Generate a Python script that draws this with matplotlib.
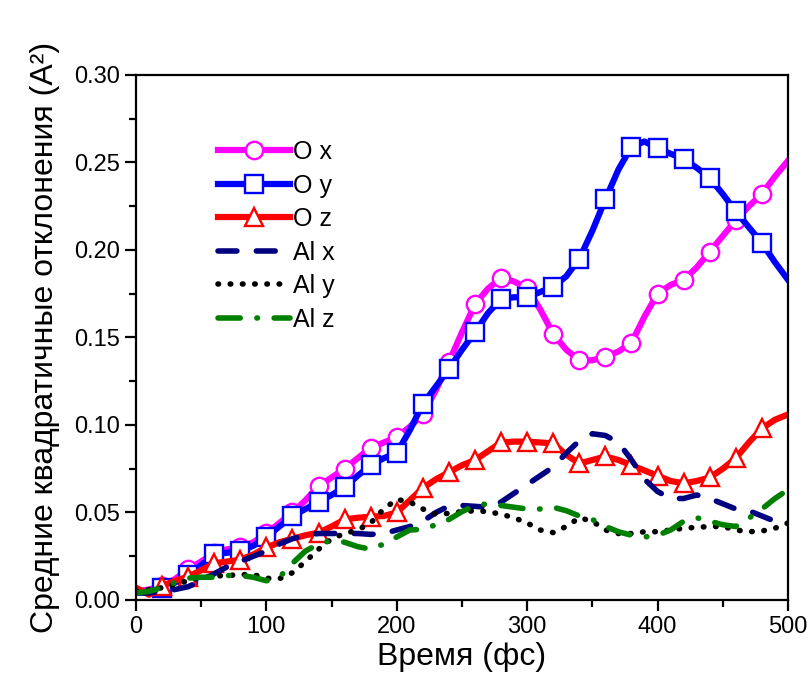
import numpy as np
import matplotlib
matplotlib.use("Agg")
import matplotlib.pyplot as plt

plt.rcParams["font.family"] = ["Liberation Sans", "DejaVu Sans"]

# time axis, fs
t = np.arange(0, 501, 10)

o_x = [0.005, 0.006, 0.008, 0.012, 0.0175, 0.022, 0.027, 0.029, 0.030, 0.033,
       0.038, 0.044, 0.050, 0.057, 0.065, 0.070, 0.075, 0.081, 0.087, 0.090,
       0.093, 0.099, 0.106, 0.120, 0.136, 0.153, 0.169, 0.178, 0.184, 0.182,
       0.178, 0.166, 0.152, 0.143, 0.137, 0.137, 0.139, 0.142, 0.147, 0.162,
       0.175, 0.180, 0.183, 0.190, 0.199, 0.208, 0.217, 0.225, 0.232, 0.242,
       0.251]
o_y = [0.005, 0.004, 0.0068, 0.010, 0.014, 0.020, 0.026, 0.027, 0.028, 0.031,
       0.036, 0.042, 0.048, 0.052, 0.056, 0.060, 0.0645, 0.071, 0.077, 0.081,
       0.084, 0.097, 0.112, 0.122, 0.132, 0.143, 0.153, 0.164, 0.172, 0.173,
       0.173, 0.176, 0.179, 0.185, 0.195, 0.211, 0.229, 0.246, 0.259, 0.262,
       0.258, 0.255, 0.252, 0.247, 0.241, 0.232, 0.222, 0.213, 0.204, 0.193,
       0.183]
o_z = [0.007, 0.003, 0.008, 0.011, 0.0133, 0.017, 0.021, 0.022, 0.023, 0.026,
       0.030, 0.033, 0.035, 0.037, 0.0385, 0.042, 0.046, 0.047, 0.0476, 0.048,
       0.050, 0.057, 0.064, 0.069, 0.073, 0.077, 0.080, 0.085, 0.090, 0.0905,
       0.0905, 0.090, 0.0895, 0.083, 0.078, 0.080, 0.082, 0.080, 0.077, 0.074,
       0.071, 0.068, 0.0667, 0.068, 0.070, 0.075, 0.081, 0.090, 0.098, 0.103,
       0.106]
al_x = [0.004, 0.004, 0.005, 0.006, 0.0076, 0.011, 0.015, 0.019, 0.022, 0.025,
        0.028, 0.032, 0.035, 0.037, 0.038, 0.038, 0.038, 0.038, 0.0375, 0.038,
        0.040, 0.042, 0.045, 0.050, 0.0537, 0.054, 0.0535, 0.053, 0.056, 0.061,
        0.066, 0.071, 0.076, 0.084, 0.091, 0.095, 0.094, 0.090, 0.080, 0.069,
        0.062, 0.058, 0.058, 0.060, 0.058, 0.055, 0.052, 0.051, 0.048, 0.045,
        0.043]
al_y = [0.005, 0.006, 0.007, 0.009, 0.011, 0.013, 0.0137, 0.014, 0.0145, 0.0145,
        0.0124, 0.0122, 0.0156, 0.022, 0.029, 0.035, 0.038, 0.040, 0.044, 0.052,
        0.0575, 0.056, 0.052, 0.049, 0.0495, 0.0505, 0.051, 0.0505, 0.049, 0.047,
        0.044, 0.040, 0.0385, 0.042, 0.047, 0.045, 0.040, 0.038, 0.038, 0.039,
        0.039, 0.040, 0.041, 0.0415, 0.042, 0.042, 0.040, 0.039, 0.0394, 0.041,
        0.044]
al_z = [0.004, 0.005, 0.007, 0.010, 0.0125, 0.013, 0.013, 0.014, 0.014, 0.013,
        0.011, 0.013, 0.021, 0.028, 0.032, 0.034, 0.033, 0.0305, 0.029, 0.032,
        0.036, 0.040, 0.0404, 0.043, 0.046, 0.0505, 0.054, 0.055, 0.054, 0.053,
        0.052, 0.052, 0.053, 0.051, 0.048, 0.046, 0.042, 0.039, 0.037, 0.036,
        0.037, 0.040, 0.045, 0.047, 0.045, 0.043, 0.042, 0.0467, 0.052, 0.058,
        0.063]

fig = plt.figure(figsize=(8.11, 6.93), dpi=100)
ax = fig.add_axes([0.1677, 0.1342, 0.8039, 0.7576])

marks = slice(2, 49, 2)  # a marker every 20 fs
common = dict(lw=4.5, ms=12.5, mew=1.7, mfc="white", markevery=marks)

ax.plot(t, o_x, color="#ff00ff", marker="o", label="O x", **common)
ax.plot(t, o_y, color="#0000ff", marker="s", label="O y", **common)
ax.plot(t, o_z, color="#ff0000", marker="^", label="O z", **common)
ax.plot(t, al_x, color="#000080", lw=4, ls=(0, (3.4, 3.5)),
        dash_capstyle="round", label="Al x")
ax.plot(t, al_y, color="black", lw=4, ls=(0, (0.1, 2.1)),
        dash_capstyle="round", label="Al y")
ax.plot(t, al_z, color="#008000", lw=4, ls=(0, (4.0, 3.0, 0.1, 3.0)),
        dash_capstyle="round", label="Al z")

ax.set_xlim(0, 500)
ax.set_ylim(0, 0.30)
ax.set_xticks(np.arange(0, 501, 100))
ax.set_xticks(np.arange(0, 501, 50), minor=True)
ax.set_yticks(np.arange(0, 0.301, 0.05))
ax.set_yticks(np.arange(0, 0.301, 0.025), minor=True)
ax.yaxis.set_major_formatter(matplotlib.ticker.FormatStrFormatter("%.2f"))
ax.tick_params(which="both", direction="out", width=1.6, labelsize=17,
               top=False, right=False)
ax.tick_params(which="major", length=8)
ax.tick_params(which="minor", length=5)
for s in ax.spines.values():
    s.set_linewidth(1.6)

ax.set_xlabel("Время (фс)", fontsize=23, labelpad=3)
ax.set_ylabel("Средние квадратичные отклонения (A²)", fontsize=23, labelpad=10)

ax.legend(loc="upper left", bbox_to_anchor=(0.125, 0.876), frameon=False,
          fontsize=18, handlelength=2.9, handletextpad=0.1, labelspacing=0.38,
          borderpad=0, borderaxespad=0)

plt.savefig("out.png", dpi=100)
